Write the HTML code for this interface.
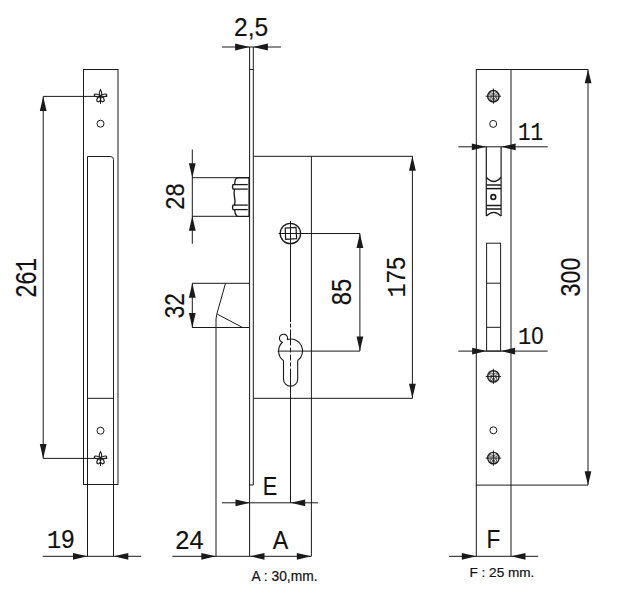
<!DOCTYPE html>
<html><head><meta charset="utf-8"><style>
html,body{margin:0;padding:0;background:#fff;}
svg{display:block;}
text{font-family:"Liberation Sans",sans-serif;fill:#111;stroke:#111;stroke-width:0.15px;}
.m{font-family:"Liberation Mono",monospace;}
.sm{stroke-width:0.2px;}
</style></head><body>
<svg width="618" height="604" viewBox="0 0 618 604" stroke="#1a1a1a" stroke-width="1.0">
<rect x="0" y="0" width="618" height="604" fill="#fff" stroke="none"/>
<rect x="83.5" y="69.5" width="34.5" height="415" fill="none"/>
<path d="M87.5,556.3 L87.5,156.5 L110.5,156.5 Q113.5,156.5 113.5,159.5 L113.5,556.3" fill="none" />
<line x1="87.5" y1="398.3" x2="113.5" y2="398.3" />
<path d="M100.50,96.40 C98.58,94.09 99.38,91.45 100.50,89.80 C101.62,91.45 102.42,94.09 100.50,96.40 M100.50,96.40 C101.28,94.22 106.33,93.32 106.71,94.85 C107.09,96.38 102.21,97.96 100.50,96.40 M100.50,96.40 C98.79,97.96 93.91,96.38 94.29,94.85 C94.67,93.32 99.72,94.22 100.50,96.40 M100.50,96.40 C103.29,96.17 105.29,100.56 103.50,101.60 C101.71,102.63 98.91,98.70 100.50,96.40 M100.50,96.40 C102.09,98.70 99.29,102.63 97.50,101.60 C95.71,100.56 97.71,96.17 100.50,96.40 " fill="none" stroke-width="1.1"/>
<line x1="100.5" y1="96.4" x2="100.5" y2="103.9" />
<line x1="100.5" y1="89.80000000000001" x2="100.5" y2="88.80000000000001" stroke-width=0.8 />
<path d="M100.50,458.40 C98.58,456.09 99.38,453.45 100.50,451.80 C101.62,453.45 102.42,456.09 100.50,458.40 M100.50,458.40 C101.28,456.22 106.33,455.32 106.71,456.85 C107.09,458.38 102.21,459.96 100.50,458.40 M100.50,458.40 C98.79,459.96 93.91,458.38 94.29,456.85 C94.67,455.32 99.72,456.22 100.50,458.40 M100.50,458.40 C103.29,458.17 105.29,462.56 103.50,463.60 C101.71,464.63 98.91,460.70 100.50,458.40 M100.50,458.40 C102.09,460.70 99.29,464.63 97.50,463.60 C95.71,462.56 97.71,458.17 100.50,458.40 " fill="none" stroke-width="1.1"/>
<line x1="100.5" y1="458.4" x2="100.5" y2="465.9" />
<line x1="100.5" y1="451.79999999999995" x2="100.5" y2="450.79999999999995" stroke-width=0.8 />
<circle cx="100.5" cy="123.7" r="3.5" fill="none" />
<circle cx="100.5" cy="430.7" r="3.5" fill="none" />
<line x1="43.2" y1="96.4" x2="107.3" y2="96.4" />
<line x1="43.2" y1="458.4" x2="107.3" y2="458.4" />
<line x1="43.2" y1="96.4" x2="43.2" y2="458.4" />
<polygon points="43.20,96.40 39.80,110.90 46.60,110.90" fill="#1a1a1a" stroke="none"/>
<polygon points="43.20,458.40 39.80,443.90 46.60,443.90" fill="#1a1a1a" stroke="none"/>
<line x1="42.7" y1="556.3" x2="141.2" y2="556.3" />
<polygon points="87.50,556.30 73.00,552.90 73.00,559.70" fill="#1a1a1a" stroke="none"/>
<polygon points="113.80,556.30 128.30,552.90 128.30,559.70" fill="#1a1a1a" stroke="none"/>
<line x1="249.6" y1="47" x2="249.6" y2="556.3" />
<line x1="253.3" y1="47" x2="253.3" y2="485" />
<line x1="249.6" y1="485" x2="253.3" y2="485" />
<line x1="249.6" y1="69.5" x2="253.3" y2="69.5" />
<line x1="222" y1="47" x2="281" y2="47" />
<polygon points="249.60,47.00 235.10,43.60 235.10,50.40" fill="#1a1a1a" stroke="none"/>
<polygon points="253.40,47.00 267.90,43.60 267.90,50.40" fill="#1a1a1a" stroke="none"/>
<line x1="253.3" y1="156.3" x2="412.9" y2="156.3" />
<line x1="311.4" y1="156.3" x2="311.4" y2="556.3" />
<line x1="253.3" y1="398.3" x2="412.5" y2="398.3" />
<line x1="192" y1="177.7" x2="238" y2="177.7" />
<line x1="192" y1="216.3" x2="238" y2="216.3" />
<path d="M249.3,177.7 L238,177.7 Q235.5,178 235,181 L234.6,184.6 L233,184.6 Q232,186.8 233,189.1 L234.6,189.1 Q233.5,193 234.5,197 Q235.5,201 234.6,205.1 L233,205.1 Q232,207.3 233,209.6 L234.6,209.6 Q234.6,214 237,216.3 L249.3,216.3" fill="none" stroke-width="1.35"/>
<line x1="234.6" y1="184.6" x2="247.8" y2="184.6" stroke-width=1.3 />
<line x1="234.6" y1="189.1" x2="247.8" y2="189.1" stroke-width=1.3 />
<line x1="234.6" y1="205.1" x2="247.8" y2="205.1" stroke-width=1.3 />
<line x1="234.6" y1="209.6" x2="247.8" y2="209.6" stroke-width=1.3 />
<line x1="249.2" y1="177.7" x2="249.2" y2="216.3" stroke-width=1.6 />
<line x1="192.3" y1="149.5" x2="192.3" y2="243.8" />
<polygon points="192.30,177.70 188.90,163.20 195.70,163.20" fill="#1a1a1a" stroke="none"/>
<polygon points="192.30,216.30 188.90,230.80 195.70,230.80" fill="#1a1a1a" stroke="none"/>
<line x1="192" y1="283.3" x2="249.6" y2="283.3" />
<line x1="192" y1="327.5" x2="249.6" y2="327.5" />
<line x1="225.5" y1="283.3" x2="216.8" y2="314.2" />
<path d="M216.8,314.2 L216.0,319 L216.0,556.3" fill="none" />
<line x1="217.3" y1="314.2" x2="242.6" y2="327.5" />
<line x1="192.3" y1="283.3" x2="192.3" y2="327.5" />
<polygon points="192.30,283.30 188.90,297.80 195.70,297.80" fill="#1a1a1a" stroke="none"/>
<polygon points="192.30,327.50 188.90,313.00 195.70,313.00" fill="#1a1a1a" stroke="none"/>
<circle cx="290.4" cy="233.5" r="10.2" fill="none" stroke-width="1.3"/>
<path d="M285.2,228.2 L296,227.3 L296.6,238.6 L285.7,239.3 Z" fill="none" stroke-width="1.2"/>
<line x1="278.5" y1="233.5" x2="360" y2="233.5" />
<line x1="290.5" y1="221" x2="290.5" y2="322" />
<path d="M297.7,360.67 L297.7,379 A7.1,7.1 0 0 1 283.5,379 L283.5,360.67 A12,12 0 0 1 282.39,342.25 A4.1,4.1 0 1 1 287.44,339.42 A12,12 0 0 1 297.7,360.67 Z" fill="none" stroke-width="1.1"/>
<line x1="277.6" y1="351.1" x2="360" y2="351.1" />
<line x1="290.5" y1="322" x2="290.5" y2="370" stroke-dasharray="0 1.5 4 2 16 2 5 2 6 2 4 2 40"/>
<line x1="290.5" y1="370" x2="290.5" y2="502.8" />
<line x1="359.9" y1="233.5" x2="359.9" y2="351.1" />
<polygon points="359.90,233.50 356.50,248.00 363.30,248.00" fill="#1a1a1a" stroke="none"/>
<polygon points="359.90,351.10 356.50,336.60 363.30,336.60" fill="#1a1a1a" stroke="none"/>
<line x1="412.4" y1="156.3" x2="412.4" y2="398.3" />
<polygon points="412.40,156.30 409.00,170.80 415.80,170.80" fill="#1a1a1a" stroke="none"/>
<polygon points="412.40,398.30 409.00,383.80 415.80,383.80" fill="#1a1a1a" stroke="none"/>
<line x1="222" y1="502.8" x2="318" y2="502.8" />
<polygon points="250.00,502.80 235.50,499.40 235.50,506.20" fill="#1a1a1a" stroke="none"/>
<polygon points="290.70,502.80 305.20,499.40 305.20,506.20" fill="#1a1a1a" stroke="none"/>
<line x1="172.4" y1="556.3" x2="311.3" y2="556.3" />
<polygon points="215.80,556.30 201.30,552.90 201.30,559.70" fill="#1a1a1a" stroke="none"/>
<polygon points="250.00,556.30 264.50,552.90 264.50,559.70" fill="#1a1a1a" stroke="none"/>
<polygon points="311.30,556.30 296.80,552.90 296.80,559.70" fill="#1a1a1a" stroke="none"/>
<rect x="476.3" y="69.5" width="34.7" height="415.6" fill="none"/>
<line x1="476.3" y1="485.1" x2="476.3" y2="556.3" />
<line x1="511" y1="485.1" x2="511" y2="556.3" />
<line x1="511" y1="69.5" x2="588.2" y2="69.5" />
<line x1="511" y1="485.1" x2="588" y2="485.1" />
<line x1="588" y1="69.5" x2="588" y2="485.1" />
<polygon points="588.10,69.50 584.70,83.30 591.50,83.30" fill="#1a1a1a" stroke="none"/>
<polygon points="588.00,485.10 584.60,471.30 591.40,471.30" fill="#1a1a1a" stroke="none"/>
<circle cx="493.4" cy="96.2" r="5.7" fill="none" stroke-width="1.4"/>
<line x1="485.7" y1="96.2" x2="501.09999999999997" y2="96.2" stroke-width=1.0 />
<line x1="493.4" y1="88.6" x2="493.4" y2="103.80000000000001" stroke-width=1.0 />
<ellipse cx="491.10" cy="94.00" rx="1.9" ry="1.1" fill="none" stroke-width="0.7" transform="rotate(15 491.10 94.00)"/>
<ellipse cx="495.70" cy="94.00" rx="1.9" ry="1.1" fill="none" stroke-width="0.7" transform="rotate(-15 495.70 94.00)"/>
<ellipse cx="491.30" cy="98.70" rx="1.0" ry="1.9" fill="none" stroke-width="0.7" transform="rotate(-25 491.30 98.70)"/>
<ellipse cx="495.50" cy="98.70" rx="1.0" ry="1.9" fill="none" stroke-width="0.7" transform="rotate(25 495.50 98.70)"/>
<circle cx="493.4" cy="376.4" r="5.7" fill="none" stroke-width="1.4"/>
<line x1="485.7" y1="376.4" x2="501.09999999999997" y2="376.4" stroke-width=1.0 />
<line x1="493.4" y1="368.8" x2="493.4" y2="383.99999999999994" stroke-width=1.0 />
<ellipse cx="491.10" cy="374.20" rx="1.9" ry="1.1" fill="none" stroke-width="0.7" transform="rotate(15 491.10 374.20)"/>
<ellipse cx="495.70" cy="374.20" rx="1.9" ry="1.1" fill="none" stroke-width="0.7" transform="rotate(-15 495.70 374.20)"/>
<ellipse cx="491.30" cy="378.90" rx="1.0" ry="1.9" fill="none" stroke-width="0.7" transform="rotate(-25 491.30 378.90)"/>
<ellipse cx="495.50" cy="378.90" rx="1.0" ry="1.9" fill="none" stroke-width="0.7" transform="rotate(25 495.50 378.90)"/>
<circle cx="493.4" cy="458.1" r="5.7" fill="none" stroke-width="1.4"/>
<line x1="485.7" y1="458.1" x2="501.09999999999997" y2="458.1" stroke-width=1.0 />
<line x1="493.4" y1="450.50000000000006" x2="493.4" y2="465.7" stroke-width=1.0 />
<ellipse cx="491.10" cy="455.90" rx="1.9" ry="1.1" fill="none" stroke-width="0.7" transform="rotate(15 491.10 455.90)"/>
<ellipse cx="495.70" cy="455.90" rx="1.9" ry="1.1" fill="none" stroke-width="0.7" transform="rotate(-15 495.70 455.90)"/>
<ellipse cx="491.30" cy="460.60" rx="1.0" ry="1.9" fill="none" stroke-width="0.7" transform="rotate(-25 491.30 460.60)"/>
<ellipse cx="495.50" cy="460.60" rx="1.0" ry="1.9" fill="none" stroke-width="0.7" transform="rotate(25 495.50 460.60)"/>
<circle cx="493.2" cy="123.9" r="3.5" fill="none" />
<circle cx="493.4" cy="430.3" r="3.5" fill="none" />
<line x1="486.3" y1="146.8" x2="486.3" y2="216" stroke-width=1.2 />
<line x1="501.1" y1="146.8" x2="501.1" y2="216" stroke-width=1.2 />
<path d="M486.3,177.3 Q490,181.5 493.7,181.5 Q497.4,181.5 501.1,177.3" fill="none" stroke-width="1.3"/>
<line x1="486.3" y1="185" x2="501.1" y2="185" stroke-width=1.5 />
<line x1="486.3" y1="188.6" x2="501.1" y2="188.6" stroke-width=1.5 />
<line x1="486.3" y1="205.5" x2="501.1" y2="205.5" stroke-width=1.5 />
<line x1="486.3" y1="209" x2="501.1" y2="209" stroke-width=1.5 />
<path d="M486.3,216 Q490,212.3 493.7,212.3 Q497.4,212.3 501.1,216" fill="none" stroke-width="1.3"/>
<circle cx="493.3" cy="197" r="2.4" fill="none" stroke-width="1.6"/>
<line x1="458.3" y1="146.8" x2="547.7" y2="146.8" />
<polygon points="486.30,146.80 471.80,143.40 471.80,150.20" fill="#1a1a1a" stroke="none"/>
<polygon points="501.10,146.80 515.60,143.40 515.60,150.20" fill="#1a1a1a" stroke="none"/>
<rect x="486.6" y="243.2" width="14" height="107.9" fill="none"/>
<line x1="486.6" y1="283.2" x2="500.6" y2="283.2" />
<line x1="486.6" y1="327.3" x2="500.6" y2="327.3" />
<line x1="458.3" y1="351.1" x2="547.7" y2="351.1" />
<polygon points="486.60,351.10 472.10,347.70 472.10,354.50" fill="#1a1a1a" stroke="none"/>
<polygon points="500.60,351.10 515.10,347.70 515.10,354.50" fill="#1a1a1a" stroke="none"/>
<line x1="448.9" y1="556.3" x2="538.2" y2="556.3" />
<polygon points="476.30,556.30 461.80,552.90 461.80,559.70" fill="#1a1a1a" stroke="none"/>
<polygon points="511.00,556.30 525.50,552.90 525.50,559.70" fill="#1a1a1a" stroke="none"/>
<text id="t_261" x="0" y="0" font-size="24" text-anchor="middle" transform="translate(36.40 277.60) rotate(-90) scale(1 1.1903)" textLength="39.68" lengthAdjust="spacingAndGlyphs">26<tspan class="m">1</tspan></text>
<text id="t_19" x="0" y="0" font-size="24" text-anchor="middle" transform="translate(60.65 547.90) scale(1 1.0978)" textLength="27.37" lengthAdjust="spacingAndGlyphs"><tspan class="m">1</tspan>9</text>
<text id="t_2_5" x="0" y="0" font-size="24" text-anchor="middle" transform="translate(251.05 35.60) scale(1 1.0856)" textLength="34.07" lengthAdjust="spacingAndGlyphs">2,5</text>
<text id="t_28" x="0" y="0" font-size="24" text-anchor="middle" transform="translate(183.70 196.60) rotate(-90) scale(1 1.0486)" textLength="26.19" lengthAdjust="spacingAndGlyphs">28</text>
<text id="t_32" x="0" y="0" font-size="24" text-anchor="middle" transform="translate(184.00 305.80) rotate(-90) scale(1 1.1226)" textLength="25.03" lengthAdjust="spacingAndGlyphs">32</text>
<text id="t_85" x="0" y="0" font-size="24" text-anchor="middle" transform="translate(351.40 292.05) rotate(-90) scale(1 1.1226)" textLength="26.59" lengthAdjust="spacingAndGlyphs">85</text>
<text id="t_175" x="0" y="0" font-size="24" text-anchor="middle" transform="translate(404.50 277.10) rotate(-90) scale(1 1.0588)" textLength="40.76" lengthAdjust="spacingAndGlyphs"><tspan class="m">1</tspan>75</text>
<text id="t_E" x="0" y="0" font-size="24" text-anchor="middle" transform="translate(270.05 495.10) scale(1 1.0640)" textLength="14.52" lengthAdjust="spacingAndGlyphs">E</text>
<text id="t_24" x="0" y="0" font-size="24" text-anchor="middle" transform="translate(189.40 548.60) scale(1 1.0392)" textLength="28.18" lengthAdjust="spacingAndGlyphs">24</text>
<text id="t_A" x="0" y="0" font-size="24" text-anchor="middle" transform="translate(280.55 548.60) scale(1 1.0392)" textLength="15.51" lengthAdjust="spacingAndGlyphs">A</text>
<text id="t_A30" class="sm" x="0" y="0" font-size="14" text-anchor="middle" transform="translate(284.50 580.50) scale(1 1.1020)" textLength="65.97" lengthAdjust="spacingAndGlyphs">A : 30,mm.</text>
<text id="t_300" x="0" y="0" font-size="24" text-anchor="middle" transform="translate(580.00 277.05) rotate(-90) scale(1 1.1463)" textLength="38.72" lengthAdjust="spacingAndGlyphs">300</text>
<text id="t_11" x="0" y="0" font-size="24" text-anchor="middle" transform="translate(530.55 139.50) scale(1 1.1030)" textLength="25.25" lengthAdjust="spacingAndGlyphs"><tspan class="m">1</tspan><tspan class="m">1</tspan></text>
<text id="t_10" x="0" y="0" font-size="24" text-anchor="middle" transform="translate(530.85 344.10) scale(1 1.0000)" textLength="25.53" lengthAdjust="spacingAndGlyphs"><tspan class="m">1</tspan>0</text>
<text id="t_F" x="0" y="0" font-size="24" text-anchor="middle" transform="translate(493.35 548.40) scale(1 1.0850)" textLength="13.81" lengthAdjust="spacingAndGlyphs">F</text>
<text id="t_F25" class="sm" x="0" y="0" font-size="14" text-anchor="middle" transform="translate(501.90 576.70) scale(1 0.9518)" textLength="64.85" lengthAdjust="spacingAndGlyphs">F : 25 mm.</text>
</svg>
</body></html>
